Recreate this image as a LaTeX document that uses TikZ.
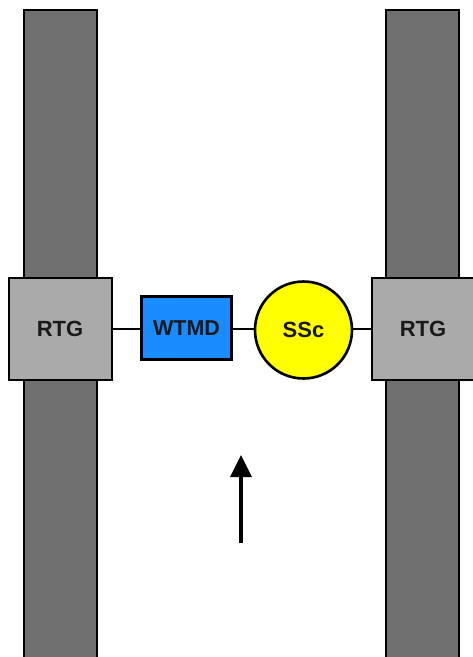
\documentclass[tikz,border=0pt]{standalone}
\usepackage{fontspec}
\setmainfont{Liberation Sans}
\usetikzlibrary{arrows.meta}
\definecolor{bargray}{HTML}{707070}
\definecolor{rtggray}{HTML}{AAAAAA}
\definecolor{wtmdblue}{HTML}{1A8CFF}
\definecolor{sscyellow}{HTML}{FFFF00}
\definecolor{txt}{HTML}{1A1A1A}
\begin{document}
\begin{tikzpicture}[x=1pt,y=-1pt,
  bar/.style={draw=black,line width=2.4pt,fill=bargray},
  rtgbox/.style={draw=black,line width=2pt,fill=rtggray,minimum width=103pt,minimum height=102pt,font=\fontsize{22}{22}\selectfont\bfseries,text=txt},
  wtmdbox/.style={draw=black,line width=2.6pt,fill=wtmdblue,minimum width=90pt,minimum height=63pt,font=\fontsize{21.5}{22}\selectfont\bfseries,text=txt},
  sscnode/.style={circle,draw=black,line width=2.6pt,fill=sscyellow,minimum size=97pt,inner sep=0pt,font=\fontsize{22}{22}\selectfont\bfseries,text=txt},
  link/.style={draw=black,line width=2.6pt}]
\useasboundingbox (0,0) rectangle (472,657);
\fill[white] (0,0) rectangle (472,657);
\draw[bar] (24,10) rectangle (97,670);
\draw[bar] (386,10) rectangle (459,670);
\node[rtgbox] (rtgL) at (60,328.5) {RTG};
\node[rtgbox] (rtgR) at (423,328.5) {RTG};
\node[wtmdbox] (wtmd) at (186.5,328) {WTMD};
\node[sscnode] (ssc) at (303.5,330) {SSc};
\draw[link] (rtgL.east |- 0,329) -- (wtmd.west |- 0,329);
\draw[link] (wtmd.east |- 0,329) -- (ssc.west |- 0,329);
\draw[link] (ssc.east |- 0,329) -- (rtgR.west |- 0,329);
\coordinate (arrS) at (241,543);
\coordinate (arrE) at (241,455);
\draw[line width=3.4pt,-{Triangle[length=22pt,width=21pt]}] (arrS) -- (arrE);
\end{tikzpicture}
\end{document}
